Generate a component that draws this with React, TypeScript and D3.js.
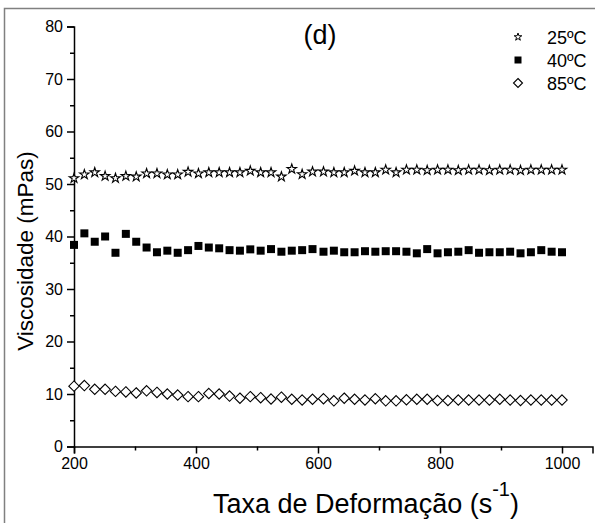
import { useEffect, useRef } from 'react';
import * as d3 from 'd3';

// shear rate (s^-1)
const rates = [
  200, 217, 234, 251, 268, 285, 302, 319, 336, 353, 370, 387, 404, 421, 438, 455,
  472, 489, 506, 523, 540, 557, 574, 591, 609, 626, 643, 660, 677, 694, 711, 728,
  745, 762, 779, 796, 813, 830, 847, 864, 881, 898, 915, 932, 949, 966, 983, 1000,
];

// viscosity (mPas)
const visc25 = [
  51.1, 51.8, 52.2, 51.5, 51.1, 51.5, 51.4, 52.0, 52.0, 51.8, 51.8, 52.3, 52.0, 52.2, 52.2, 52.2,
  52.2, 52.5, 52.2, 52.2, 51.4, 52.85, 51.85, 52.35, 52.35, 52.2, 52.2, 52.5, 52.2, 52.2, 52.7, 52.2,
  52.7, 52.7, 52.6, 52.7, 52.7, 52.6, 52.7, 52.7, 52.6, 52.7, 52.7, 52.6, 52.7, 52.7, 52.7, 52.7,
];
const visc40 = [
  38.4, 40.6, 39.0, 40.0, 36.9, 40.5, 39.0, 37.9, 37.0, 37.3, 36.9, 37.4, 38.2, 37.9, 37.75, 37.4,
  37.3, 37.55, 37.3, 37.6, 37.1, 37.3, 37.4, 37.6, 37.1, 37.3, 37.0, 37.0, 37.2, 37.1, 37.2, 37.2,
  37.1, 36.8, 37.6, 36.8, 37.0, 37.1, 37.4, 36.9, 37.0, 37.0, 37.1, 36.8, 37.0, 37.4, 37.1, 37.0,
];
const visc85 = [
  11.5, 11.6, 10.9, 10.9, 10.5, 10.4, 10.2, 10.6, 10.3, 10.0, 9.8, 9.5, 9.5, 10.1, 10.0, 9.6,
  9.2, 9.5, 9.3, 9.05, 9.4, 9.0, 8.86, 9.0, 9.1, 8.7, 9.2, 9.0, 8.86, 9.1, 8.7, 8.7,
  8.9, 9.0, 9.0, 8.75, 8.75, 8.85, 8.85, 8.85, 8.85, 9.0, 8.85, 8.75, 8.85, 8.85, 8.85, 8.85,
];

const seriesNames = ['25ºC', '40ºC', '85ºC'];
const xTicks = [200, 400, 600, 800, 1000];
const yTicks = [0, 10, 20, 30, 40, 50, 60, 70, 80];

const W = 595;
const H = 523;
const FONT = '"Liberation Sans", Arial, Helvetica, sans-serif';

const App = () => {
  const svgRef = useRef<SVGSVGElement>(null);

  useEffect(() => {
    const svg = d3.select(svgRef.current);
    svg.selectAll('*').remove();

    svg.append('rect').attr('width', W).attr('height', H).attr('fill', '#fff');

    // figure frame (cut off right and bottom)
    svg.append('path')
      .attr('d', `M4.5,${H + 2}V8.5H${W + 2}`)
      .attr('fill', 'none')
      .attr('stroke', '#808080')
      .attr('stroke-width', 1.5);

    const x = d3.scaleLinear().domain([200, 1050]).range([74, 592.5]);
    const y = d3.scaleLinear().domain([0, 80]).range([446.5, 26.5]);

    const xAxis = svg.append('g').attr('transform', `translate(0,${y(0)})`)
      .call(d3.axisBottom(x).tickValues(xTicks).tickSize(7).tickPadding(4).tickFormat(d3.format('d')));
    svg.append('g').attr('transform', `translate(0,${y(0)})`)
      .call(d3.axisBottom(x).tickValues([300, 500, 700, 900]).tickSize(4).tickFormat(() => ''))
      .call(g => g.select('.domain').remove());

    const yAxis = svg.append('g').attr('transform', `translate(${x(200)},0)`)
      .call(d3.axisLeft(y).tickValues(yTicks).tickSize(7).tickPadding(4));
    svg.append('g').attr('transform', `translate(${x(200)},0)`)
      .call(d3.axisLeft(y).tickValues(yTicks.slice(1).map(v => v - 5)).tickSize(4).tickFormat(() => ''))
      .call(g => g.select('.domain').remove());

    svg.selectAll('.domain, .tick line').attr('stroke', '#000').attr('stroke-width', 1.5);
    [xAxis, yAxis].forEach(g => g.selectAll('text')
      .attr('fill', '#000').style('font-family', FONT).style('font-size', '16px'));

    const star = d3.symbol().type(d3.symbolStar).size(28)();
    const square = d3.symbol().type(d3.symbolSquare).size(64)();
    const diamond = 'M0,-5.2L5.2,0L0,5.2L-5.2,0Z';

    const drawSeries = (vals: number[], path: string | null, fill: string, sw: number) => {
      svg.append('g').selectAll('path')
        .data(vals)
        .join('path')
        .attr('transform', (d, i) => `translate(${x(rates[i])},${y(d)})`)
        .attr('d', path)
        .attr('fill', fill)
        .attr('stroke', '#000')
        .attr('stroke-width', sw);
    };
    drawSeries(visc85, diamond, '#fff', 1.1);
    drawSeries(visc40, square, '#000', 0);
    drawSeries(visc25, star, '#fff', 1.1);

    // legend
    const legendMarks = [
      { path: d3.symbol().type(d3.symbolStar).size(18)(), fill: '#fff', sw: 1 },
      { path: d3.symbol().type(d3.symbolSquare).size(49)(), fill: '#000', sw: 0 },
      { path: 'M0,-4.5L4.5,0L0,4.5L-4.5,0Z', fill: '#fff', sw: 1.1 },
    ];
    const legend = svg.append('g');
    seriesNames.forEach((name, i) => {
      const row = legend.append('g').attr('transform', `translate(0,${37 + i * 23})`);
      row.append('path')
        .attr('transform', 'translate(518,0)')
        .attr('d', legendMarks[i].path)
        .attr('fill', legendMarks[i].fill)
        .attr('stroke', '#000')
        .attr('stroke-width', legendMarks[i].sw);
      row.append('text')
        .attr('x', 547).attr('y', 6.5)
        .style('font-family', FONT).style('font-size', '18px')
        .text(name);
    });

    // panel label
    svg.append('text')
      .attr('x', 320).attr('y', 44)
      .attr('text-anchor', 'middle')
      .style('font-family', FONT).style('font-size', '27px')
      .text('(d)');

    // axis titles
    svg.append('text')
      .attr('transform', 'translate(33,251) rotate(-90)')
      .attr('text-anchor', 'middle')
      .style('font-family', FONT).style('font-size', '22.5px')
      .text('Viscosidade (mPas)');

    const xt = svg.append('text')
      .attr('x', 366).attr('y', 513)
      .attr('text-anchor', 'middle')
      .style('font-family', FONT).style('font-size', '27px');
    xt.append('tspan').text('Taxa de Deformação (s');
    xt.append('tspan').attr('dy', -17).style('font-size', '20px').text('-1');
    xt.append('tspan').attr('dy', 17).text(')');
  }, []);

  return (
    <svg ref={svgRef} width={W} height={H}
      style={{ position: 'absolute', left: 0, top: 0, display: 'block' }} />
  );
};

export default App;
